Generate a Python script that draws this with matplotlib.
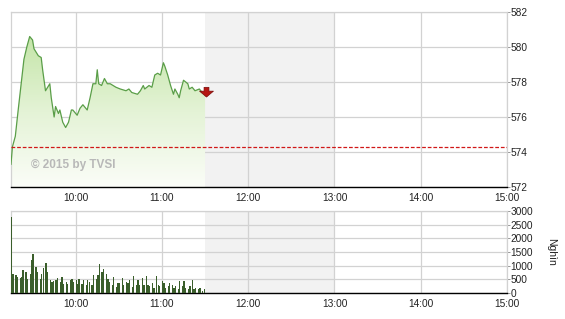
import numpy as np
import matplotlib
matplotlib.use("Agg")
import matplotlib.pyplot as plt
from matplotlib.path import Path
from matplotlib.patches import Polygon
from matplotlib.colors import LinearSegmentedColormap

plt.rcParams['font.family'] = ['Liberation Sans', 'DejaVu Sans']

# ---------------- data ----------------
price_times = ["9:15", "9:16", "9:18", "9:20", "9:24", "9:26", "9:28", "9:30", "9:31",
               "9:34", "9:36", "9:37", "9:39", "9:42", "9:43", "9:45", "9:46", "9:48",
               "9:49", "9:51", "9:53", "9:55", "9:57", "9:58", "10:01", "10:03", "10:05",
               "10:08", "10:10", "10:12", "10:14", "10:15", "10:16", "10:18", "10:20",
               "10:22", "10:24", "10:28", "10:31", "10:35", "10:37", "10:39", "10:43",
               "10:45", "10:47", "10:48", "10:51", "10:53", "10:55", "10:57", "10:59",
               "11:01", "11:02", "11:04", "11:06", "11:08", "11:09", "11:11", "11:12",
               "11:13", "11:15", "11:18", "11:19", "11:21", "11:23", "11:26", "11:28", "11:30"]
price_values = [573.3, 574.3, 574.9, 576.4, 579.3, 580.0, 580.6, 580.4, 579.9,
                579.5, 579.4, 578.7, 577.5, 577.9, 577.1, 576.0, 576.6, 576.2,
                576.4, 575.7, 575.4, 575.7, 576.4, 576.4, 576.1, 576.5, 576.7,
                576.4, 577.1, 577.9, 577.9, 578.7, 577.9, 577.8, 578.2,
                577.9, 577.9, 577.7, 577.6, 577.5, 577.6, 577.4, 577.3,
                577.5, 577.8, 577.6, 577.8, 577.7, 578.4, 578.5, 578.4,
                579.1, 578.9, 578.4, 577.8, 577.3, 577.6, 577.3, 577.1,
                577.5, 578.1, 577.9, 577.6, 577.7, 577.5, 577.6, 577.4, 577.4]
reference_price = 574.3

# volume: minutes after 9:15, thousands of shares
vol_minutes = [0, 1, 3, 4, 6, 7, 8, 10, 11, 13, 14, 15, 17, 18, 20, 21, 22, 24, 25, 27,
               28, 29, 31, 32, 34, 35, 36, 38, 39, 41, 42, 43, 45, 46, 47, 49, 50, 52, 53, 54,
               56, 57, 59, 60, 61, 63, 64, 66, 67, 68, 70, 71, 73, 74, 75, 77, 78, 80, 81, 82,
               84, 85, 87, 88, 89, 91, 92, 94, 95, 96, 98, 99, 101, 102, 103, 105, 106, 107, 109, 110,
               112, 113, 114, 116, 117, 119, 120, 121, 123, 124, 126, 127, 128, 130, 131, 133, 134]
vol_values = [2770, 700, 650, 600, 560, 600, 830, 780, 520, 710, 1200, 1430, 960, 780, 520, 700,
              900, 1110, 780, 480, 420, 450, 480, 540, 400, 590, 340, 400, 340, 480, 520, 400,
              480, 340, 520, 340, 480, 280, 480, 400, 280, 650, 520, 650, 1050, 770, 880, 700,
              520, 400, 280, 600, 230, 370, 350, 540, 280, 400, 350, 470, 230, 610, 300, 470,
              310, 550, 310, 610, 310, 250, 370, 180, 630, 310, 250, 430, 370, 180, 250, 370,
              310, 180, 250, 130, 430, 250, 430, 180, 130, 250, 470, 130, 180, 130, 180, 80, 130]

price_ticks = [572, 574, 576, 578, 580, 582]
vol_ticks = [0, 500, 1000, 1500, 2000, 2500, 3000]
hour_ticks = ["10:00", "11:00", "12:00", "13:00", "14:00", "15:00"]
session_start, session_end = "9:15", "15:00"
break_start, break_end = "11:30", "13:00"
watermark = "© 2015 by TVSI"
vol_label = "Nghìn"


def to_h(s):
    h, m = s.split(":")
    return int(h) + int(m) / 60.0


px = np.array([to_h(t) for t in price_times])
py = np.array(price_values)
vx = to_h(session_start) + np.array(vol_minutes) / 60.0
vy = np.array(vol_values)

W, H = 565, 319
fig = plt.figure(figsize=(W / 100, H / 100), dpi=100)
fig.patch.set_facecolor("white")


def frac(x0, y0, x1, y1):
    return [x0 / W, 1 - y1 / H, (x1 - x0) / W, (y1 - y0) / H]


ax1 = fig.add_axes(frac(11, 12, 507, 187))
ax2 = fig.add_axes(frac(11, 211, 507, 293))

grid_c = "#d2d2d2"
for ax in (ax1, ax2):
    ax.set_xlim(to_h(session_start), to_h(session_end))
    ax.axvspan(to_h(break_start), to_h(break_end), color="#f2f2f2", zorder=0, lw=0)
    ax.set_xticks([to_h(t) for t in hour_ticks])
    ax.set_xticklabels(hour_ticks)
    ax.grid(True, color=grid_c, lw=0.9, zorder=0.5)
    ax.set_axisbelow(True)
    ax.yaxis.tick_right()
    ax.tick_params(axis="x", length=0, labelsize=7.3, pad=4, colors="#222222")
    ax.tick_params(axis="y", length=2, width=0.6, color="#888888", labelsize=7.3, pad=0.5,
                   labelcolor="#222222")
    for s in ("left", "top", "right"):
        ax.spines[s].set_color(grid_c)
        ax.spines[s].set_linewidth(0.9)
    ax.spines["bottom"].set_color("black")
    ax.spines["bottom"].set_linewidth(1.0)

# ---- price panel ----
ax1.set_yticks(price_ticks)
ax1.set_yticklabels([str(v) for v in price_ticks])

grad = np.linspace(0, 1, 256).reshape(-1, 1)
cmap = LinearSegmentedColormap.from_list("g", ["#fbfdf8", "#e4f3d6", "#c4e5a8"])
ymin = price_ticks[0]
im = ax1.imshow(grad, extent=[px[0], px[-1], ymin, py.max()], origin="lower",
                aspect="auto", cmap=cmap, zorder=1)
verts = np.vstack([[px[0], ymin], np.column_stack([px, py]), [px[-1], ymin]])
clip = Polygon(verts, closed=True, transform=ax1.transData, facecolor="none", edgecolor="none")
ax1.add_patch(clip)
im.set_clip_path(clip)
ax1.set_xlim(to_h(session_start), to_h(session_end))
ax1.set_ylim(price_ticks[0], price_ticks[-1])

ax1.plot(px, py, color="#5a9e48", lw=0.9, zorder=3)
ax1.axhline(reference_price, color="#d01818", lw=0.9, ls=(0, (3, 1.5)), zorder=3)

arrow = Path([(-0.35, 0.6), (0.35, 0.6), (0.35, 0.05), (1.0, 0.05), (0.0, -0.8),
              (-1.0, 0.05), (-0.35, 0.05), (-0.35, 0.6)],
             [Path.MOVETO] + [Path.LINETO] * 6 + [Path.CLOSEPOLY])
ax1.plot(px[-1] + 0.005, py[-1] + 0.1, marker=arrow, markersize=10, color="#b51612",
         markeredgecolor="#7a0a08", markeredgewidth=0.5, zorder=5, clip_on=False)

ax1.text(0.04, 0.125, watermark, transform=ax1.transAxes, fontsize=8.5, fontweight="bold",
         color="#b8b8b8", va="center", ha="left", zorder=4)

# ---- volume panel ----
ax2.bar(vx + 0.4 / 60.0, vy, width=0.95 / 60.0, align="center", color="#3a5e2b", lw=0,
        zorder=3)
ax2.set_ylim(vol_ticks[0], vol_ticks[-1])
ax2.set_yticks(vol_ticks)
ax2.set_yticklabels([str(v) for v in vol_ticks])
fig.text(551 / W, 1 - 252 / H, vol_label, rotation=270, fontsize=7.5, ha="center", va="center",
         color="#222222")

fig.savefig("out.png", dpi=100, facecolor="white")
